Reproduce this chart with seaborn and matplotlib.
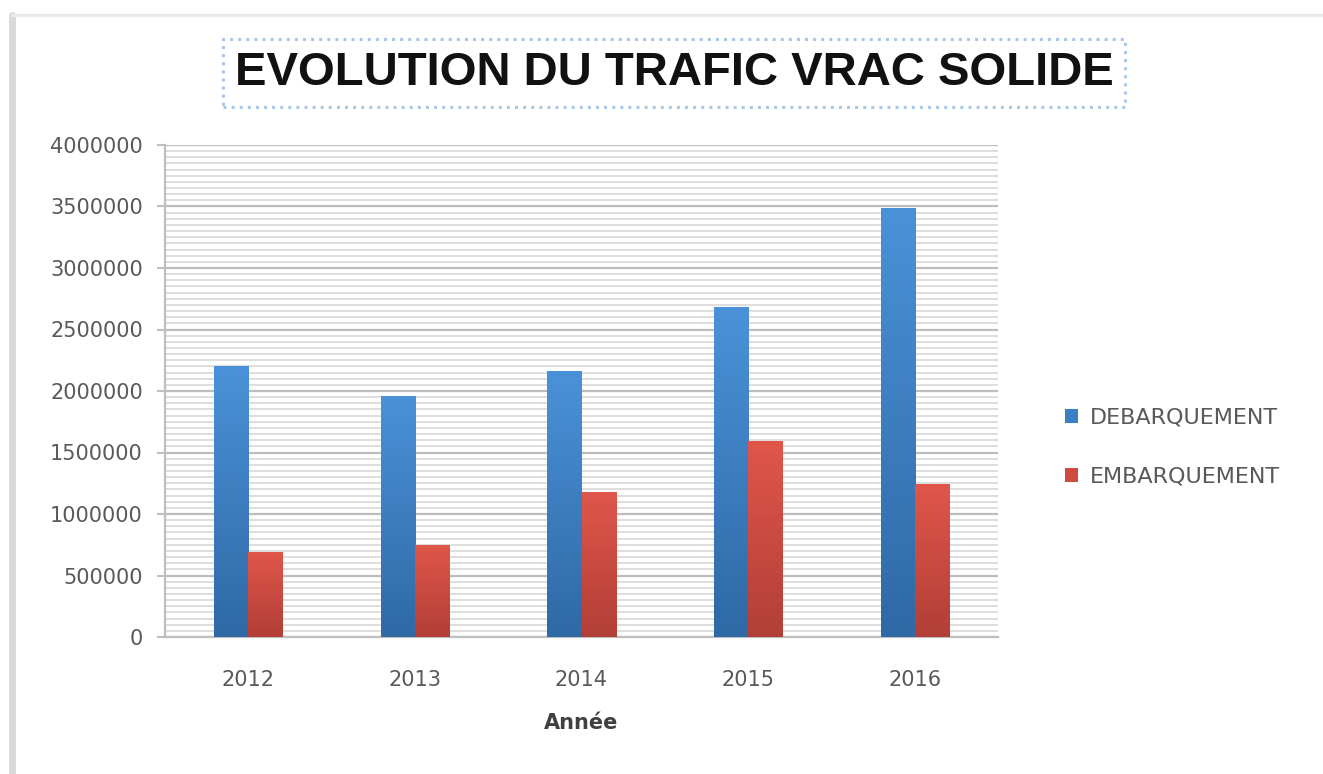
import matplotlib
matplotlib.use("Agg")
import matplotlib.pyplot as plt
import matplotlib.ticker as mticker
from matplotlib.patches import Patch
from matplotlib.lines import Line2D
from matplotlib.colors import LinearSegmentedColormap
import seaborn as sns
import pandas as pd
import numpy as np

years = ["2012", "2013", "2014", "2015", "2016"]
debarquement = [2200000, 1960000, 2160000, 2680000, 3490000]
embarquement = [690000, 750000, 1180000, 1590000, 1245000]
series_names = ["DEBARQUEMENT", "EMBARQUEMENT"]
colors = ["#3d7fc4", "#cf4b3f"]
grad_top = ["#4a92d8", "#e0564a"]
grad_bottom = ["#2f69a6", "#b23f37"]

df = pd.DataFrame({
    "Année": years * 2,
    "Valeur": debarquement + embarquement,
    "Type": [series_names[0]] * len(years) + [series_names[1]] * len(years),
})

sns.set_theme(style="white")
plt.rcParams["font.family"] = ["DejaVu Sans"]

fig = plt.figure(figsize=(13.23, 7.74), dpi=100)
ax = fig.add_axes([165 / 1323, 1 - 637 / 774, (998 - 165) / 1323, (637 - 145) / 774])

sns.barplot(data=df, x="Année", y="Valeur", hue="Type", palette=colors,
            width=0.41, gap=0, ax=ax, legend=False, saturation=1, zorder=3,
            linewidth=0)

ax.set_ylim(0, 4000000)
ax.set_xlim(-0.5, len(years) - 0.5)

# vertical gradient fill of each bar, clipped to the bar drawn by seaborn
grad = np.linspace(0, 1, 256).reshape(-1, 1)
for i, patch in enumerate(list(ax.patches)):
    s = 0 if i < len(years) else 1
    cmap = LinearSegmentedColormap.from_list(f"g{i}", [grad_bottom[s], grad_top[s]])
    x0, y0 = patch.get_x(), patch.get_y()
    w, h = patch.get_width(), patch.get_height()
    im = ax.imshow(grad, cmap=cmap, aspect="auto", origin="lower",
                   extent=[x0, x0 + w, y0, y0 + h], zorder=3.5)
    im.set_clip_path(patch)
ax.set_xlim(-0.5, len(years) - 0.5)
ax.set_ylim(0, 4000000)

ax.yaxis.set_major_locator(mticker.MultipleLocator(500000))
ax.yaxis.set_minor_locator(mticker.MultipleLocator(50000))
ax.yaxis.set_major_formatter(mticker.FuncFormatter(lambda v, p: f"{int(v)}"))
ax.grid(axis="y", which="major", color="#bdbdbd", lw=1.6, zorder=0)
ax.grid(axis="y", which="minor", color="#dedede", lw=1.4, zorder=0)
ax.set_axisbelow(True)

for s in ["top", "right"]:
    ax.spines[s].set_visible(False)
for s in ["left", "bottom"]:
    ax.spines[s].set_color("#bfbfbf")
    ax.spines[s].set_linewidth(1.6)

ax.tick_params(axis="y", which="major", left=True, length=6, width=1.5, color="#bfbfbf",
               labelsize=15, labelcolor="#595959", pad=10)
ax.tick_params(axis="y", which="minor", left=False)
ax.tick_params(axis="x", bottom=False, labelsize=15, labelcolor="#595959", pad=18)

ax.set_ylabel("")
ax.set_xlabel("Année", fontsize=15, fontweight="bold", color="#404040", labelpad=16)

fig.text(674 / 1323, 1 - 73 / 774, "EVOLUTION DU TRAFIC VRAC SOLIDE",
         ha="center", va="center", fontsize=34, fontweight="bold",
         family=["Liberation Sans"], color="#111111",
         bbox=dict(boxstyle="square,pad=0.25", fc="none", ec="#a9c8e8", ls=":", lw=2.2))

handles = [Patch(facecolor=c, edgecolor="none") for c in colors]
fig.legend(handles, series_names, loc="center left",
           bbox_to_anchor=(1045 / 1323, 1 - 447 / 774), frameon=False,
           fontsize=16, labelcolor="#595959", labelspacing=1.75,
           handlelength=0.6, handleheight=0.6, handletextpad=0.5)

# outer frame lines
fig.add_artist(Line2D([12 / 1323, 12 / 1323], [0, 1 - 15 / 774], color="#d9d9d9", lw=5,
                      transform=fig.transFigure))
fig.add_artist(Line2D([12 / 1323, 1], [1 - 15 / 774, 1 - 15 / 774], color="#ebebeb", lw=2.5,
                      transform=fig.transFigure))

fig.savefig("out.png", dpi=100)
